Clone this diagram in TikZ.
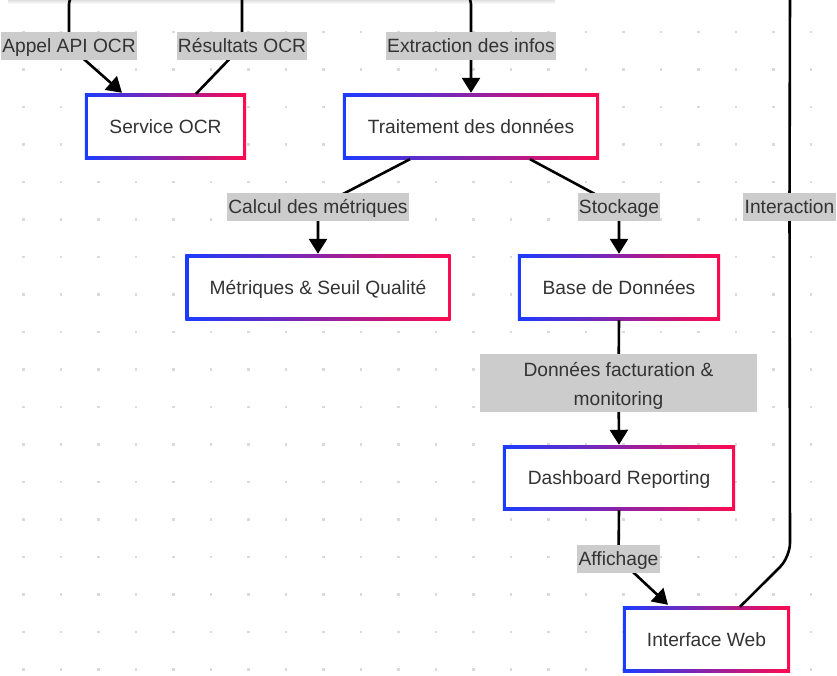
\documentclass[tikz,border=0pt]{standalone}
\usepackage{fontspec}
\setmainfont{Liberation Sans}
\usetikzlibrary{arrows.meta,calc,backgrounds}
\definecolor{txt}{HTML}{333333}
\definecolor{lblgray}{HTML}{CCCCCC}
\definecolor{dotgray}{HTML}{DADADA}
\definecolor{bblue}{HTML}{1A3CFF}
\definecolor{bred}{HTML}{FF0A50}
\pgfdeclarelayer{dots}
\pgfsetlayers{dots,background,main}
\begin{document}
\begin{tikzpicture}[x=1pt,y=-1pt,
  font=\fontsize{19.2}{23}\selectfont,
  box/.style={rectangle, fill=white, inner sep=0pt, text=txt, minimum height=59pt,
              text height=13.8pt, text depth=0pt},
  lbl/.style={rectangle, fill=lblgray, inner xsep=1.2pt, inner ysep=0pt, minimum height=28pt, text=txt,
              text height=13.8pt, text depth=0pt},
  conn/.style={line width=2.6pt, black},
  arr/.style={conn, -{Triangle[length=15pt,width=18pt]}},
  gframe/.style={left color=bblue, right color=bred},
]
\useasboundingbox (0,0) rectangle (837,676);

% nodes
\node[box, minimum width=155pt] (s) at (165.5,126.5) {Service OCR};
\node[box, minimum width=250pt] (t) at (471,126.5) {Traitement des données};
\node[box, minimum width=259pt] (m) at (318,287.5) {Métriques \& Seuil Qualité};
\node[box, minimum width=196pt] (b) at (619,287.5) {Base de Données};
\node[box, minimum width=226pt, minimum height=58pt] (d) at (619,478) {Dashboard Reporting};
\node[box, minimum width=161pt] (w) at (706.5,639.5) {Interface Web};

% labels
\node[lbl] (l1) at (69,46) {Appel API OCR};
\node[lbl] (l2) at (242,46) {Résultats OCR};
\node[lbl] (l3) at (471,46) {Extraction des infos};
\node[lbl] (l4) at (318,207) {Calcul des métriques};
\node[lbl] (l5) at (619,207) {Stockage};
\node[lbl, minimum width=277pt, minimum height=58pt] (l6) at (618.5,383) {};
\node[text=txt, align=center, inner sep=0pt, font=\fontsize{19.2}{29}\selectfont] (l6t) at (618.5,385.5)
  {Données facturation \&\\monitoring};
\node[lbl] (l7) at (618.5,558.5) {Affichage};
\node[lbl] (l8) at (789.5,207) {Interaction};

% free ends and bends
\coordinate (c1) at (100,-6);
\coordinate (c2) at (242,-10);
\coordinate (c3) at (440,-6);
\coordinate (c8) at (790,-10);
\coordinate (bend8) at (790,557);

\begin{pgfonlayer}{dots}
  \fill[white] (0,0) rectangle (837,676);
  \foreach \i in {0,...,21} {
    \foreach \j in {0,...,17} {
      \fill[dotgray] ({23.5+37.5*\i-1.3},{32+37.5*\j-1.3}) rectangle ++(2.6,2.6);
    }
  }
  \shade[top color=black!12, bottom color=white] (8,0) rectangle (555,4);
\end{pgfonlayer}

\begin{pgfonlayer}{background}
  \foreach \n in {s,t,m,b,d,w} {
    \shade[gframe] ($(\n.north west)+(-3,-3)$) rectangle ($(\n.south east)+(3,3)$);
  }
  \draw[arr, rounded corners=10pt] (c1) -| (l1.center) -- ($(s.north)+(-43.5,-4)$);
  \draw[conn] ($(s.north)+(30.5,-3)$) -- (l2.center) -- (c2);
  \draw[arr, rounded corners=10pt] (c3) -| (l3.center) -- ($(t.north)+(0,-4)$);
  \draw[arr] ($(t.south)+(-61,3)$) -- (l4.center) -- ($(m.north)+(0,-4)$);
  \draw[arr] ($(t.south)+(59,3)$) -- (l5.center) -- ($(b.north)+(0,-4)$);
  \draw[arr] ($(b.south)+(0,3)$) -- (l6.center) -- ($(d.north)+(0,-4)$);
  \draw[arr] ($(d.south)+(0,3)$) -- (l7.center) -- ($(w.north)+(-38.5,-5)$);
  \draw[conn, rounded corners=14pt] ($(w.north)+(33.5,-3)$) -- (bend8) -- (l8.center) -- (c8);
\end{pgfonlayer}
\end{tikzpicture}
\end{document}
